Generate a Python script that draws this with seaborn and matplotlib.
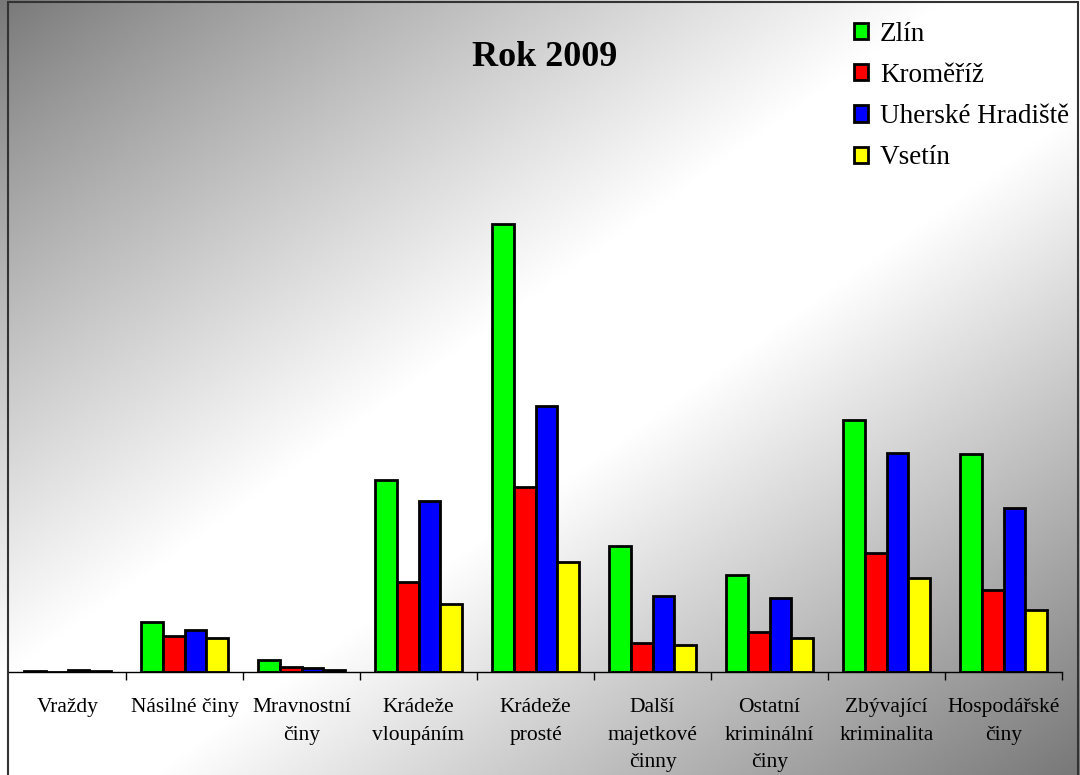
import numpy as np
import pandas as pd
import matplotlib.pyplot as plt
import seaborn as sns
from matplotlib.patches import Rectangle

categories = ['Vraždy', 'Násilné činy', 'Mravnostní\nčiny', 'Krádeže\nvloupáním', 'Krádeže\nprosté',
              'Další\nmajetkové\nčinny', 'Ostatní\nkriminální\nčiny', 'Zbývající\nkriminalita', 'Hospodářské\nčiny']
regions = ['Zlín', 'Kroměříž', 'Uherské Hradiště', 'Vsetín']
zlin = [1, 50, 12, 192, 448, 126, 97, 252, 218]
kromeriz = [0.3, 36, 5, 90, 185, 29, 40, 119, 82]
uh_hradiste = [2, 42, 4, 171, 266, 76, 74, 219, 164]
vsetin = [1, 34, 2, 68, 110, 27, 34, 94, 62]
colors = ['#00ff00', '#ff0000', '#0000ff', '#ffff00']

df = pd.DataFrame({'kategorie': categories * 4,
                   'okres': np.repeat(regions, len(categories)),
                   'hodnota': zlin + kromeriz + uh_hradiste + vsetin})

sns.set_style('white')
plt.rcParams['font.family'] = ['Liberation Serif', 'DejaVu Serif']
plt.rcParams['text.color'] = 'black'
plt.rcParams['xtick.color'] = 'black'

fig = plt.figure(figsize=(10.8, 7.75), dpi=100)

# background gradient: grey in top-left and bottom-right corners, white across the diagonal
bg = fig.add_axes([0, 0, 1, 1])
xx, yy = np.meshgrid(np.linspace(0, 1, 400), np.linspace(0, 1, 300))
t = (xx + yy) / 2
shade = np.where(t < 0.5, 0.47 + 0.53 * np.clip(t / 0.44, 0, 1) ** 0.9,
                 1 - 0.53 * np.clip((t - 0.57) / 0.43, 0, 1))
bg.imshow(shade, cmap='gray', vmin=0, vmax=1, aspect='auto', extent=[0, 1, 0, 1], origin='upper')
bg.add_patch(Rectangle((8 / 1080, -0.01), 1070 / 1080, 1.01 - 2 / 775, fill=False,
                       edgecolor='#333333', linewidth=1.5, transform=bg.transAxes))
bg.set_axis_off()

ax = fig.add_axes([9 / 1080, 1 - 672 / 775, 1053 / 1080, 652 / 775])
ax.patch.set_alpha(0)
sns.barplot(data=df, x='kategorie', y='hodnota', hue='okres', palette=colors, saturation=1,
            width=0.75, gap=0, edgecolor='black', linewidth=2, ax=ax)
ax.set_ylim(0, 652)
ax.set_xlim(-0.5, len(categories) - 0.5)
ax.set_xlabel('')
ax.set_ylabel('')
ax.set_yticks([])
for s in ['top', 'right', 'left']:
    ax.spines[s].set_visible(False)
ax.spines['bottom'].set_color('black')
ax.spines['bottom'].set_linewidth(1)
ax.set_xticks(np.arange(len(categories)))
ax.set_xticklabels(categories, fontsize=15.5, linespacing=1.6, va='top')
ax.tick_params(axis='x', which='major', length=0, pad=19)
ax.set_xticks(np.arange(1, len(categories) + 1) - 0.5, minor=True)
ax.tick_params(axis='x', which='minor', bottom=True, length=6, color='black', width=1, direction='out')

fig.text(545 / 1080, 1 - 57 / 775, 'Rok 2009', fontsize=26, fontweight='bold', ha='center', va='center')

handles, labels = ax.get_legend_handles_labels()
ax.legend(handles, labels, loc='upper left', bbox_to_anchor=(840 / 1080, 1 - 8 / 775),
          bbox_transform=fig.transFigure, frameon=False, fontsize=19.5, handlelength=0.55,
          handleheight=0.55, handletextpad=0.42, labelspacing=0.6, borderpad=0)

fig.savefig('out.png', dpi=100)
